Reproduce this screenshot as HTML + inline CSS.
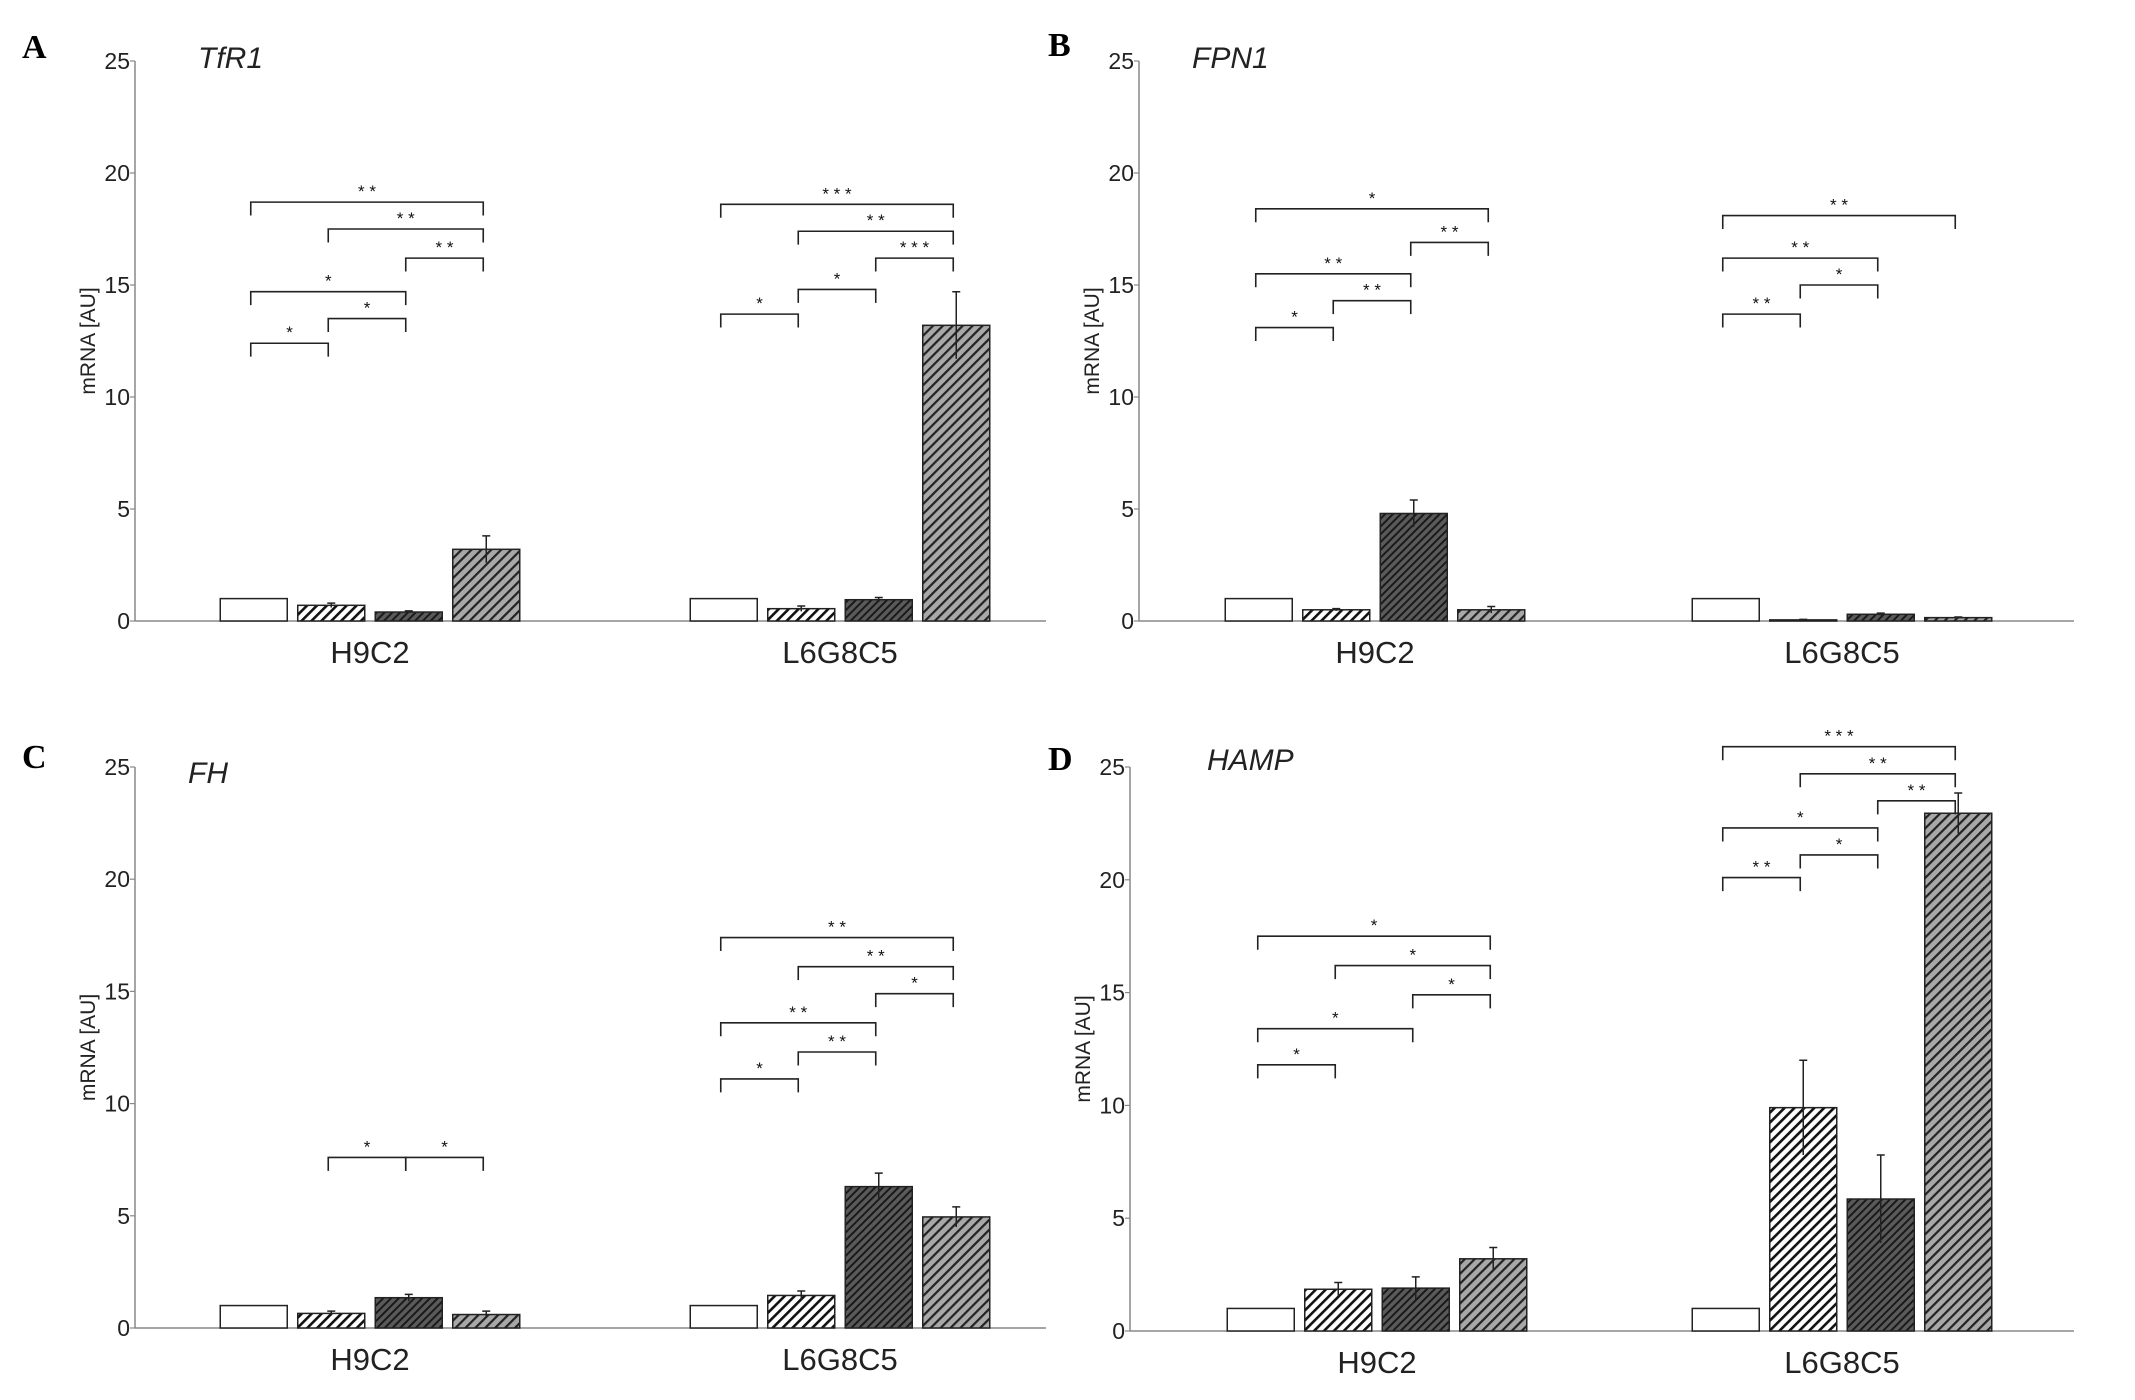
<!DOCTYPE html>
<html><head><meta charset="utf-8"><style>
html,body{margin:0;padding:0;background:#fff;}
svg{display:block;font-family:"Liberation Sans",sans-serif;}
</style></head><body>
<svg id="fig" width="2135" height="1400" viewBox="0 0 2135 1400">
<defs>
<pattern id="pw" patternUnits="userSpaceOnUse" width="7" height="7" patternTransform="rotate(45)"><rect width="7" height="7" fill="#fff"/><rect width="2.6" height="7" fill="#111"/></pattern>
<pattern id="pd" patternUnits="userSpaceOnUse" width="5.5" height="5.5" patternTransform="rotate(45)"><rect width="5.5" height="5.5" fill="#5a5a5a"/><rect width="2" height="5.5" fill="#1a1a1a"/></pattern>
<pattern id="pg" patternUnits="userSpaceOnUse" width="7" height="7" patternTransform="rotate(45)"><rect width="7" height="7" fill="#a8a8a8"/><rect width="2.2" height="7" fill="#222"/></pattern>
</defs>
</svg>
<script>
// categories
const categories = ["H9C2", "L6G8C5"];
const yTicks = [0, 5, 10, 15, 20, 25];
// Panel A TfR1
const tfr1Values = [1, 0.7, 0.4, 3.2, 1, 0.55, 0.95, 13.2];
const tfr1Errors = [0, 0.1, 0.05, 0.6, 0, 0.12, 0.1, 1.5];
const tfr1Sig = [[0,3,18.7,"* *"],[1,3,17.5,"* *"],[2,3,16.2,"* *"],[0,2,14.7,"*"],[1,2,13.5,"*"],[0,1,12.4,"*"],
  [4,7,18.6,"* * *"],[5,7,17.4,"* *"],[6,7,16.2,"* * *"],[5,6,14.8,"*"],[4,5,13.7,"*"]];
// Panel B FPN1
const fpn1Values = [1, 0.5, 4.8, 0.5, 1, 0.05, 0.3, 0.15];
const fpn1Errors = [0, 0.05, 0.6, 0.15, 0, 0.02, 0.05, 0.03];
const fpn1Sig = [[0,3,18.4,"*"],[2,3,16.9,"* *"],[0,2,15.5,"* *"],[1,2,14.3,"* *"],[0,1,13.1,"*"],
  [4,7,18.1,"* *"],[4,6,16.2,"* *"],[5,6,15.0,"*"],[4,5,13.7,"* *"]];
// Panel C FH
const fhValues = [1, 0.65, 1.35, 0.6, 1, 1.45, 6.3, 4.95];
const fhErrors = [0, 0.1, 0.15, 0.15, 0, 0.2, 0.6, 0.45];
const fhSig = [[1,2,7.6,"*"],[2,3,7.6,"*"],
  [4,7,17.4,"* *"],[5,7,16.1,"* *"],[6,7,14.9,"*"],[4,6,13.6,"* *"],[5,6,12.3,"* *"],[4,5,11.1,"*"]];
// Panel D HAMP
const hampValues = [1, 1.85, 1.9, 3.2, 1, 9.9, 5.85, 22.95];
const hampErrors = [0, 0.3, 0.5, 0.5, 0, 2.1, 1.95, 0.9];
const hampSig = [[0,3,17.5,"*"],[1,3,16.2,"*"],[2,3,14.9,"*"],[0,2,13.4,"*"],[0,1,11.8,"*"],
  [4,7,25.9,"* * *"],[5,7,24.7,"* *"],[6,7,23.5,"* *"],[4,6,22.3,"*"],[5,6,21.1,"*"],[4,5,20.1,"* *"]];

const svg = document.getElementById('fig');
const NS = 'http://www.w3.org/2000/svg';
const fills = ['#fff','url(#pw)','url(#pd)','url(#pg)'];
function mk(tag, attrs, parent){ const e=document.createElementNS(NS,tag); for(const k in attrs) e.setAttribute(k,attrs[k]); (parent||svg).appendChild(e); return e; }

function drawPanel(cfg, values, errors, sig){
  const g = mk('g',{});
  
  
  const x0=cfg.x0, x1=cfg.x1, y0=cfg.y0, y25=cfg.y25;
  const yS = v => y0 - (v/25)*(y0-y25);
  const groupCenter = gi => cfg.gc[gi];
  const barW=67, pitch=77.5;
  const barX = i => groupCenter(Math.floor(i/4)) + ((i%4)-1.5)*pitch - barW/2;
  const barC = i => barX(i)+barW/2;
  const ya = mk('line',{x1:x0,y1:y25,x2:x0,y2:y0,stroke:'#888','stroke-width':1.5},g);
   
  const xa = mk('line',{x1:x0,y1:y0,x2:x1,y2:y0,stroke:'#888','stroke-width':1.5},g);
   
  yTicks.forEach(t=>{
    mk('line',{x1:x0-5,y1:yS(t),x2:x0,y2:yS(t),stroke:'#888','stroke-width':1.2},g);
    const tl = mk('text',{x:x0-5,y:yS(t)+8,'text-anchor':'end','font-size':23,fill:'#222'},g);
    tl.textContent=t;
     
  });
  categories.forEach((c,gi)=>{
    const cl = mk('text',{x:groupCenter(gi),y:y0+42,'text-anchor':'middle','font-size':31,fill:'#222'},g);
    cl.textContent=c;
     
  });
  const yt = mk('text',{x:0,y:0,'text-anchor':'middle','font-size':21,fill:'#222',transform:`translate(${x0-40},${yS(12.5)}) rotate(-90)`},g);
  yt.textContent='mRNA [AU]';
   
  const tt = mk('text',{x:cfg.tx,y:cfg.ty,'font-size':30,'font-style':'italic',fill:'#222'},g);
  tt.textContent=cfg.title;
   
  const pl = mk('text',{x:cfg.lx,y:cfg.ly,'font-size':34,'font-weight':'bold','font-family':'Liberation Serif, serif',fill:'#000'},g);
  pl.textContent=cfg.letter;
   
  values.forEach((v,i)=>{
    const r = mk('rect',{x:barX(i),y:yS(v),width:barW,height:Math.max(0.5,y0-yS(v)),fill:fills[i%4],stroke:'#222','stroke-width':1.5},g);
    
    
    const e=errors[i];
    if(e>0){
      const eb = mk('path',{d:`M${barC(i)},${yS(v-e)}V${yS(v+e)}M${barC(i)-4},${yS(v+e)}H${barC(i)+4}`,stroke:'#222','stroke-width':1.5,fill:'none'},g);
       
    }
  });
  sig.forEach(s=>{
    const xa_=barC(s[0])-3, xb=barC(s[1])-3, yy=yS(s[2]), drop=0.6*(y0-y25)/25;
    const br = mk('path',{d:`M${xa_},${yy+drop}V${yy}H${xb}V${yy+drop}`,stroke:'#222','stroke-width':1.6,fill:'none'},g);
     
    const st = mk('text',{x:(xa_+xb)/2,y:yy-5,'text-anchor':'middle','font-size':17,fill:'#111'},g);
    st.textContent=s[3];
     
  });
}
drawPanel({letter:'A',title:'TfR1',x0:135,x1:1046,y0:621,y25:61,gc:[370,840],tx:198,ty:68,lx:22,ly:58},tfr1Values,tfr1Errors,tfr1Sig);
drawPanel({letter:'B',title:'FPN1',x0:1139,x1:2074,y0:621,y25:61,gc:[1375,1842],tx:1192,ty:68,lx:1048,ly:56},fpn1Values,fpn1Errors,fpn1Sig);
drawPanel({letter:'C',title:'FH',x0:135,x1:1046,y0:1328,y25:767,gc:[370,840],tx:188,ty:783,lx:22,ly:768},fhValues,fhErrors,fhSig);
drawPanel({letter:'D',title:'HAMP',x0:1130,x1:2074,y0:1331,y25:767,gc:[1377,1842],tx:1207,ty:770,lx:1048,ly:770},hampValues,hampErrors,hampSig);
</script>
</body></html>
